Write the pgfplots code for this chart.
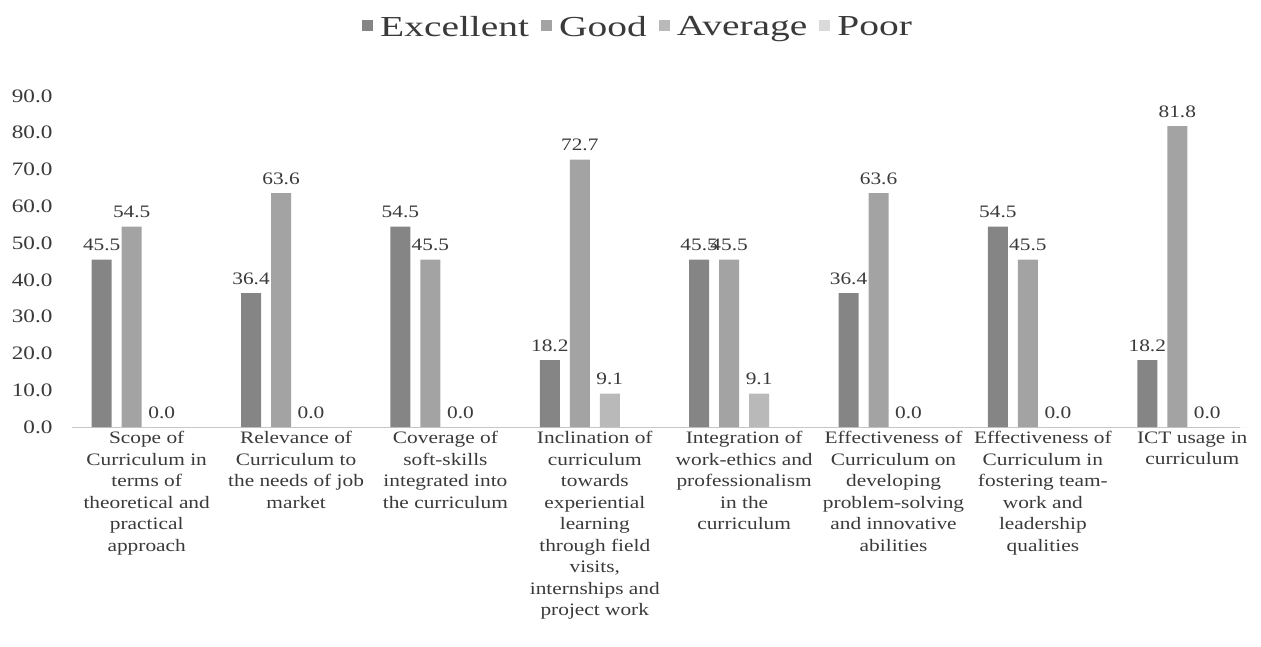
\documentclass[border=0pt]{standalone}
\usepackage{fontspec}
\setmainfont{Liberation Serif}[FakeStretch=1.22]
\newfontfamily\legfont{Liberation Serif}[FakeStretch=1.36]
\usepackage{pgfplots}
\pgfplotsset{compat=1.18}
\definecolor{cExc}{HTML}{858585}
\definecolor{cGood}{HTML}{A3A3A3}
\definecolor{cAvg}{HTML}{B9B9B9}
\definecolor{cPoor}{HTML}{DADADA}
\definecolor{txt}{HTML}{3A3A3A}
\begin{document}
\begin{tikzpicture}
\useasboundingbox (-72pt,-219pt) rectangle (1189pt,427pt);
\begin{axis}[
  at={(0pt,0pt)}, anchor=south west,
  scale only axis, width=1168pt, height=331pt,
  ybar=10pt, bar width=20pt,
  xmin=-0.5, xmax=7.32, ymin=0, ymax=90,
  clip=false,
  axis x line=bottom, axis y line=left,
  axis line style={-},
  x axis line style={draw=gray!45, line width=0.8pt},
  y axis line style={draw=none},
  major tick length=0pt,
  ytick={0,10,...,90},
  xtick={0,...,7},
  /pgf/number format/assume math mode=true,
  yticklabel style={/pgf/number format/.cd, fixed, fixed zerofill, precision=1, /tikz/.cd,
     font=\fontsize{19}{21}\selectfont, text=txt, xshift=-16pt},
  xticklabel style={align=center, font=\fontsize{17.5}{21.5}\selectfont, text=txt, anchor=north, yshift=-1pt},
  xticklabels={
    {Scope of\\Curriculum in\\terms of\\theoretical and\\practical\\approach},
    {Relevance of\\Curriculum to\\the needs of job\\market},
    {Coverage of\\soft-skills\\integrated into\\the curriculum},
    {Inclination of\\curriculum\\towards\\experiential\\learning\\through field\\visits,\\internships and\\project work},
    {Integration of\\work-ethics and\\professionalism\\in the\\curriculum},
    {Effectiveness of\\Curriculum on\\developing\\problem-solving\\and innovative\\abilities},
    {Effectiveness of\\Curriculum in\\fostering team-\\work and\\leadership\\qualities},
    {ICT usage in\\curriculum}},
  nodes near coords style={font=\fontsize{17.5}{19}\selectfont, text=txt, anchor=south, yshift=5pt,
     /pgf/number format/.cd, fixed, fixed zerofill, precision=1},
  legend style={at={(0.4846,1.208)}, anchor=center, legend columns=4, draw=none, fill=none,
     font=\legfont\fontsize{29}{31}\selectfont, text=txt,
     /tikz/every even column/.append style={column sep=10pt},
     /tikz/every odd column/.append style={column sep=5pt}},
  legend image code/.code={\fill[#1] (0pt,-4pt) rectangle (11pt,7pt);},
]
\addplot[fill=cExc, draw=none, nodes near coords] coordinates {(0,45.5) (1,36.4) (2,54.5) (3,18.2) (4,45.5) (5,36.4) (6,54.5) (7,18.2)};
\addplot[fill=cGood, draw=none, nodes near coords] coordinates {(0,54.5) (1,63.6) (2,45.5) (3,72.7) (4,45.5) (5,63.6) (6,45.5) (7,81.8)};
\addplot[fill=cAvg, draw=none, nodes near coords] coordinates {(0,0.0) (1,0.0) (2,0.0) (3,9.1) (4,9.1) (5,0.0) (6,0.0) (7,0.0)};
\addplot[fill=cPoor, draw=none] coordinates {(0,0) (1,0) (2,0) (3,0) (4,0) (5,0) (6,0) (7,0)};
\legend{Excellent, Good, Average, Poor}
\end{axis}
\end{tikzpicture}
\end{document}
